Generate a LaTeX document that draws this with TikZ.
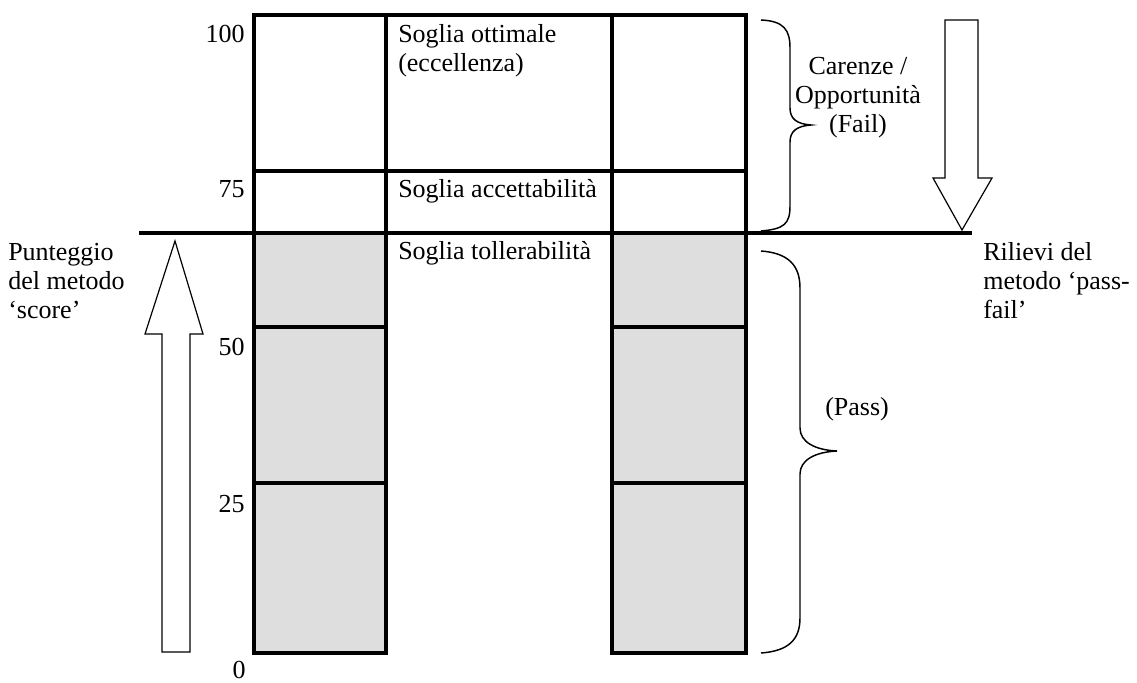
\documentclass[tikz,border=0pt]{standalone}
\usepackage{fontspec}
\setmainfont{Liberation Serif}
\definecolor{cellgray}{HTML}{DEDEDE}
\tikzset{
  lbl/.style={font=\fontsize{19.5}{21.5}\selectfont, inner sep=0pt},
  grid/.style={line width=2.5pt},
  hollow/.style={line width=0.9pt, fill=white, line join=miter},
  bracket/.style={line width=1.1pt},
}
\begin{document}
\begin{tikzpicture}[x=0.75pt, y=-0.75pt]
  \useasboundingbox (0,0) rectangle (1137,682);

  % Gray cells below the tolerability line
  \fill[cellgray] (254,233) rectangle (386,653);
  \fill[cellgray] (612,233) rectangle (746,653);

  % Grid of the scale
  \draw[grid] (254,15) rectangle (746,233);
  \draw[grid] (386,15) -- (386,233);
  \draw[grid] (612,15) -- (612,233);
  \draw[grid] (254,171) -- (746,171);
  \draw[grid] (254,233) rectangle (386,653);
  \draw[grid] (612,233) rectangle (746,653);
  \foreach \y in {327,483}
    \draw[grid] (254,\y) -- (386,\y) (612,\y) -- (746,\y);
  \draw[grid] (139,233) -- (972,233);

  % Score values
  \node[lbl, anchor=base east] (v100) at (245,42) {100};
  \node[lbl, anchor=base east] (v75) at (245,197) {75};
  \node[lbl, anchor=base east] (v50) at (245,355) {50};
  \node[lbl, anchor=base east] (v25) at (245,512) {25};
  \node[lbl, anchor=base] (v0) at (239,678) {0};

  % Thresholds (multi-line nodes sit on their last baseline)
  \node[lbl, anchor=base west, align=left] (ottimale) at (398,71)
    {Soglia ottimale\\(eccellenza)};
  \node[lbl, anchor=base west] (accett) at (398,197) {Soglia accettabilità};
  \node[lbl, anchor=base west] (toller) at (398,259) {Soglia tollerabilità};

  % Side captions
  \node[lbl, anchor=base west, align=left] (score) at (8,318)
    {Punteggio\\del metodo\\`score'};
  \node[lbl, anchor=base west, align=left] (passfail) at (983,318)
    {Rilievi del\\metodo `pass-\\fail'};
  \node[lbl, anchor=base, align=center] (fail) at (858,132)
    {Carenze /\\Opportunità\\(Fail)};
  \node[lbl, anchor=base west] (pass) at (825,415) {(Pass)};

  % Hollow arrows
  \draw[hollow] (162,652) -- (162,334) -- (145,334) -- (175,241)
    -- (203,334) -- (190,334) -- (190,652) -- cycle;
  \draw[hollow] (945,20) -- (978,20) -- (978,178) -- (992,178)
    -- (962,230) -- (933,178) -- (945,178) -- cycle;

  % Braces
  \draw[bracket] (761,20) .. controls (784,21) and (790,30) .. (790,48)
    -- (790,108) .. controls (790,119) and (797,124) .. (811,125)
    .. controls (797,126) and (790,131) .. (790,142)
    -- (790,206) .. controls (790,224) and (784,229) .. (761,231);
  \draw[bracket] (761,251) .. controls (788,253) and (800,265) .. (800,288)
    -- (800,428) .. controls (800,442) and (815,450) .. (837,451)
    .. controls (815,452) and (800,460) .. (800,474)
    -- (800,618) .. controls (800,640) and (788,651) .. (761,653);
\end{tikzpicture}
\end{document}
